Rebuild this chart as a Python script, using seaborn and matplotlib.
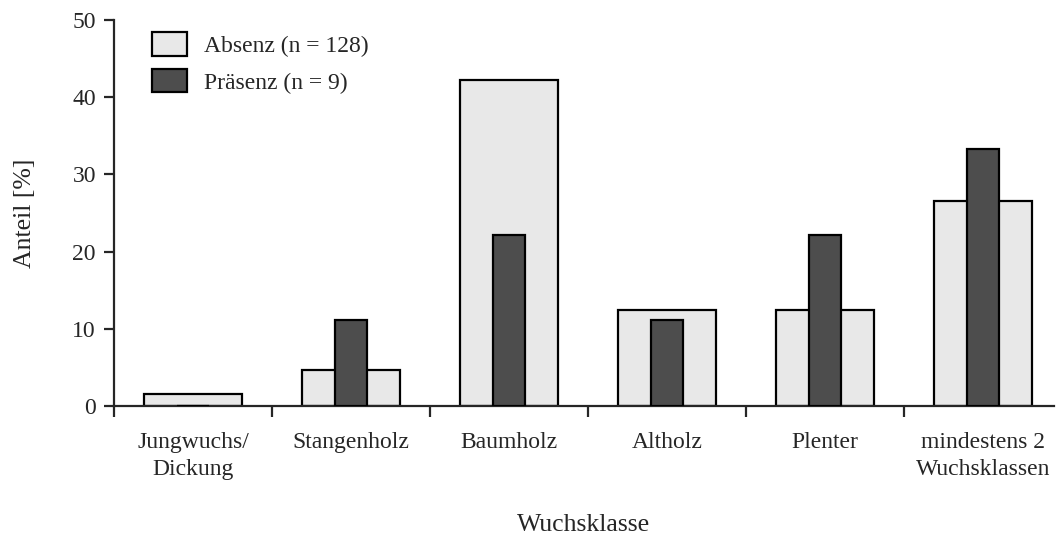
import matplotlib
matplotlib.use("Agg")
import matplotlib.pyplot as plt
import seaborn as sns
import pandas as pd
from matplotlib.patches import Patch

categories = ["Jungwuchs/\nDickung", "Stangenholz", "Baumholz", "Altholz", "Plenter",
              "mindestens 2\nWuchsklassen"]
absenz = [1.6, 4.7, 42.2, 12.5, 12.5, 26.6]
praesenz = [0.0, 11.1, 22.2, 11.1, 22.2, 33.3]
series_labels = ["Absenz (n = 128)", "Präsenz (n = 9)"]

sns.set_style("ticks")
plt.rcParams["font.family"] = ["Liberation Serif", "DejaVu Serif"]

fig = plt.figure(figsize=(10.56, 5.38), dpi=100)
ax = fig.add_axes([114/1056, 1-406/538, (1054-114)/1056, (406-20)/538])

light = "#e8e8e8"
dark = "#4d4d4d"
df_a = pd.DataFrame({"cat": categories, "val": absenz})
df_p = pd.DataFrame({"cat": categories, "val": praesenz})
sns.barplot(data=df_a, x="cat", y="val", order=categories, color=light, saturation=1,
            width=0.62, edgecolor="black", linewidth=1.6, ax=ax, zorder=2)
sns.barplot(data=df_p, x="cat", y="val", order=categories, color=dark, saturation=1,
            width=0.2, edgecolor="black", linewidth=1.6, ax=ax, zorder=3)

fs = 17
ax.set_xlim(-0.5, 5.45)
ax.set_ylim(0, 50)
ax.set_yticks([0, 10, 20, 30, 40, 50])
ax.tick_params(axis="y", length=7, width=1.6, labelsize=fs, pad=6)
ax.set_xticks(range(len(categories)))
ax.set_xticklabels(categories, fontsize=fs, linespacing=1.32)
ax.tick_params(axis="x", which="major", length=0, pad=19)
ax.set_xticks([i - 0.5 for i in range(len(categories))], minor=True)
ax.tick_params(axis="x", which="minor", length=8, width=1.6)
for s in ["top", "right"]:
    ax.spines[s].set_visible(False)
for s in ["left", "bottom"]:
    ax.spines[s].set_linewidth(1.6)

ax.set_ylabel("Anteil [%]", fontsize=18.5, labelpad=26)
ax.set_xlabel("Wuchsklasse", fontsize=18.5, labelpad=25)

handles = [Patch(facecolor=light, edgecolor="black", linewidth=1.6),
           Patch(facecolor=dark, edgecolor="black", linewidth=1.6)]
ax.legend(handles, series_labels, loc="upper left", bbox_to_anchor=(0.040, 0.968),
          borderaxespad=0, borderpad=0,
          frameon=False, fontsize=fs, handlelength=1.48, handleheight=1.15,
          handletextpad=0.72, labelspacing=0.5)

fig.savefig("out.png", dpi=100)
